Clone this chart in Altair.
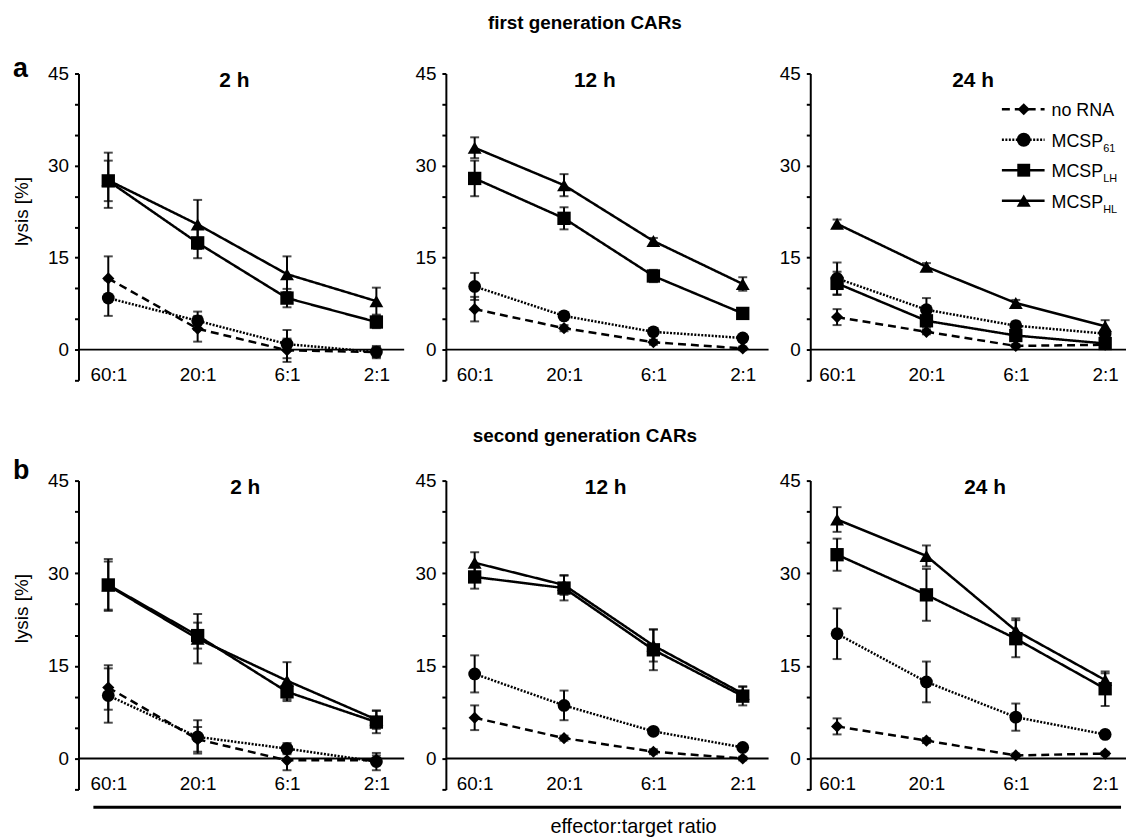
import altair as alt
import pandas as pd

FONT = "Liberation Sans"

ratios = ["60:1", "20:1", "6:1", "2:1"]
series = ["no RNA", "MCSP61", "MCSPLH", "MCSPHL"]
series_main = ["no RNA", "MCSP", "MCSP", "MCSP"]
series_sub = ["", "61", "LH", "HL"]
times = ["2 h", "12 h", "24 h"]
row_titles = ["first generation CARs", "second generation CARs"]
row_letters = ["a", "b"]
y_title = "lysis [%]"
x_title = "effector:target ratio"

# rows: no RNA, MCSP61, MCSPLH, MCSPHL ; columns: 60:1, 20:1, 6:1, 2:1
first_2h = [[11.6, 3.4, -0.1, -0.4], [8.4, 4.7, 0.9, -0.4], [27.5, 17.4, 8.4, 4.5], [27.6, 20.4, 12.3, 7.9]]
first_2h_err = [[3.6, 2.1, 1.9, 0.8], [2.9, 1.5, 2.3, 1.0], [3.3, 2.5, 1.5, 1.0], [4.5, 4.0, 2.9, 2.2]]
first_12h = [[6.6, 3.5, 1.2, 0.2], [10.3, 5.5, 2.9, 1.9], [27.9, 21.4, 12.0, 5.9], [32.9, 26.8, 17.7, 10.7]]
first_12h_err = [[2.0, 0.5, 0.4, 0.3], [2.2, 0.5, 0.5, 0.4], [2.9, 1.8, 1.0, 0.5], [1.7, 1.8, 0.5, 1.1]]
first_24h = [[5.3, 2.9, 0.6, 0.8], [11.6, 6.5, 3.9, 2.6], [10.8, 4.7, 2.3, 1.0], [20.5, 13.5, 7.6, 3.8]]
first_24h_err = [[1.3, 0.4, 0.3, 0.3], [2.6, 1.9, 0.7, 0.5], [1.9, 1.0, 0.6, 0.4], [0.7, 0.6, 0.5, 1.0]]

second_2h = [[11.5, 3.1, -0.3, -0.3], [10.2, 3.5, 1.6, -0.5], [28.1, 19.9, 10.8, 5.9], [28.0, 19.4, 12.6, 6.3]]
second_2h_err = [[3.6, 2.0, 1.6, 0.8], [4.4, 2.7, 0.9, 1.4], [4.2, 2.1, 1.5, 1.8], [3.9, 4.0, 3.0, 1.5]]
second_12h = [[6.6, 3.3, 1.1, 0.0], [13.7, 8.6, 4.4, 1.8], [29.4, 27.6, 17.6, 10.1], [31.7, 28.1, 18.3, 10.5]]
second_12h_err = [[2.0, 0.4, 0.4, 0.3], [3.0, 2.4, 0.5, 0.5], [1.9, 2.0, 3.3, 1.5], [1.7, 1.6, 2.6, 1.2]]
second_24h = [[5.2, 2.9, 0.5, 0.8], [20.2, 12.4, 6.7, 3.9], [33.0, 26.5, 19.4, 11.3], [38.7, 32.8, 20.7, 12.7]]
second_24h_err = [[1.3, 0.4, 0.3, 0.3], [4.1, 3.3, 2.2, 0.6], [2.6, 4.2, 3.0, 2.8], [2.0, 1.7, 2.0, 1.1]]

panel_data = [
    [(first_2h, first_2h_err), (first_12h, first_12h_err), (first_24h, first_24h_err)],
    [(second_2h, second_2h_err), (second_12h, second_12h_err), (second_24h, second_24h_err)],
]

# styles
dashes = [[8, 5], [2, 1.5], [1, 0], [1, 0]]
shapes = ["diamond", "circle", "square", "triangle-up"]
sizes = [150, 196, 169, 200]
widths = [328, 325, 318]
x_first = [30, 29, 27]
row_heights = [309, 311]
title_dx = [[157, 150, 164], [168, 161, 176]]
title_dy = [14, 13]
letter_dy = [4, -2]
rowtitle_dy = [-45, -39]
ytitle_dy = [139, 129]


def make_df(mean, err):
    rows = []
    for si, s in enumerate(series):
        for ri, r in enumerate(ratios):
            m = mean[si][ri]
            e = err[si][ri]
            rows.append({"series": s, "ratio": r, "lysis": m, "lo": m - e, "hi": m + e})
    return pd.DataFrame(rows)


def panel(row, col):
    mean, err = panel_data[row][col]
    df = make_df(mean, err)
    W = widths[col]
    x_enc = alt.X(
        "ratio:N", sort=ratios,
        scale=alt.Scale(type="point", range=[x_first[col], x_first[col] + 270], padding=0),
        axis=alt.Axis(title=None, domain=False, ticks=False, tickSize=0, labelPadding=0,
                      labelBaseline="alphabetic", labelAngle=0, labelFontSize=19,
                      labelFont=FONT, labelColor="black"),
    )
    yscale = alt.Scale(domain=[-5, 45], nice=False, zero=False)
    yaxis = alt.Axis(
        title=None, values=list(range(-5, 50, 5)),
        labelExpr="(datum.value >= 0 && datum.value % 15 == 0) ? datum.label : ''",
        tickSize=4, tickWidth=2, tickColor="black", domainWidth=2, domainColor="black",
        labelFontSize=19, labelPadding=6, labelFont=FONT, labelColor="black", grid=False,
    )
    base = alt.Chart(df)
    lines = base.mark_line(color="black", strokeWidth=2.5).encode(
        x=x_enc,
        y=alt.Y("lysis:Q", scale=yscale, axis=yaxis),
        detail="series:N",
        strokeDash=alt.StrokeDash("series:N", scale=alt.Scale(domain=series, range=dashes), legend=None),
    )
    bars = base.mark_rule(color="black", strokeWidth=2).encode(
        x=x_enc, y=alt.Y("lo:Q", scale=yscale, axis=yaxis), y2="hi:Q")
    cap_lo = base.mark_tick(color="black", thickness=2, size=9, orient="horizontal").encode(
        x=x_enc, y=alt.Y("lo:Q", scale=yscale, axis=yaxis))
    cap_hi = base.mark_tick(color="black", thickness=2, size=9, orient="horizontal").encode(
        x=x_enc, y=alt.Y("hi:Q", scale=yscale, axis=yaxis))
    pts = base.mark_point(filled=True, opacity=1, color="black").encode(
        x=x_enc,
        y=alt.Y("lysis:Q", scale=yscale, axis=yaxis),
        shape=alt.Shape("series:N", scale=alt.Scale(domain=series, range=shapes), legend=None),
        size=alt.Size("series:N", scale=alt.Scale(domain=series, range=sizes), legend=None),
    )
    zero = alt.Chart(pd.DataFrame({"z": [0]})).mark_rule(color="black", strokeWidth=2).encode(
        y=alt.Y("z:Q", scale=yscale, axis=yaxis))
    ttl = alt.Chart(pd.DataFrame({"t": [times[col]]})).mark_text(
        fontSize=21, fontWeight="bold", font=FONT, align="center", baseline="alphabetic", color="black"
    ).encode(text="t:N", x=alt.value(title_dx[row][col]), y=alt.value(title_dy[row]))
    layers = [zero, lines, bars, cap_lo, cap_hi, pts, ttl]

    if col == 0:
        layers.append(alt.Chart(pd.DataFrame({"t": [row_letters[row]]})).mark_text(
            fontSize=27, fontWeight="bold", font=FONT, align="left", baseline="alphabetic", color="black"
        ).encode(text="t:N", x=alt.value(-66), y=alt.value(letter_dy[row])))
        layers.append(alt.Chart(pd.DataFrame({"t": [y_title]})).mark_text(
            fontSize=19, font=FONT, align="center", baseline="middle", angle=270, color="black"
        ).encode(text="t:N", x=alt.value(-57), y=alt.value(ytitle_dy[row])))
    if col == 1:
        layers.append(alt.Chart(pd.DataFrame({"t": [row_titles[row]]})).mark_text(
            fontSize=19, fontWeight="bold", font=FONT, align="center", baseline="alphabetic", color="black"
        ).encode(text="t:N", x=alt.value(140), y=alt.value(rowtitle_dy[row])))
        if row == 1:
            layers.append(alt.Chart(pd.DataFrame({"t": [x_title]})).mark_rule(
                color="black", strokeWidth=3
            ).encode(x=alt.value(-355), x2=alt.value(680), y=alt.value(329)))
            layers.append(alt.Chart(pd.DataFrame({"t": [x_title]})).mark_text(
                fontSize=20, font=FONT, align="center", baseline="alphabetic", color="black"
            ).encode(text="t:N", x=alt.value(189), y=alt.value(355)))
    if col == 2 and row == 0:
        y0, dy = 36, 30.7
        for i, s in enumerate(series):
            yy = y0 + i * dy
            d = alt.Chart(pd.DataFrame({"main": [series_main[i]], "sub": [series_sub[i]]}))
            layers.append(d.mark_rule(color="black", strokeWidth=2.5, strokeDash=dashes[i]).encode(
                x=alt.value(193), x2=alt.value(236), y=alt.value(yy)))
            layers.append(d.mark_point(filled=True, opacity=1, color="black", shape=shapes[i], size=sizes[i]).encode(
                x=alt.value(215), y=alt.value(yy)))
            layers.append(d.mark_text(fontSize=18, font=FONT, align="left", baseline="alphabetic", color="black").encode(
                text="main:N", x=alt.value(243), y=alt.value(yy + 7)))
            if series_sub[i]:
                layers.append(d.mark_text(fontSize=11, font=FONT, align="left", baseline="alphabetic", color="black").encode(
                    text="sub:N", x=alt.value(295), y=alt.value(yy + 12)))
    return alt.layer(*layers).properties(width=W, height=row_heights[row])


panels = [panel(r, c) for r in range(2) for c in range(3)]

chart = alt.concat(*panels, columns=3, spacing={"row": 101, "column": 42}, bounds="flush").properties(
    padding={"left": 5, "top": 3, "right": 0, "bottom": 0}
).configure_view(stroke=None)

chart.save("out.html", embed_options={"renderer": "svg", "actions": False})
